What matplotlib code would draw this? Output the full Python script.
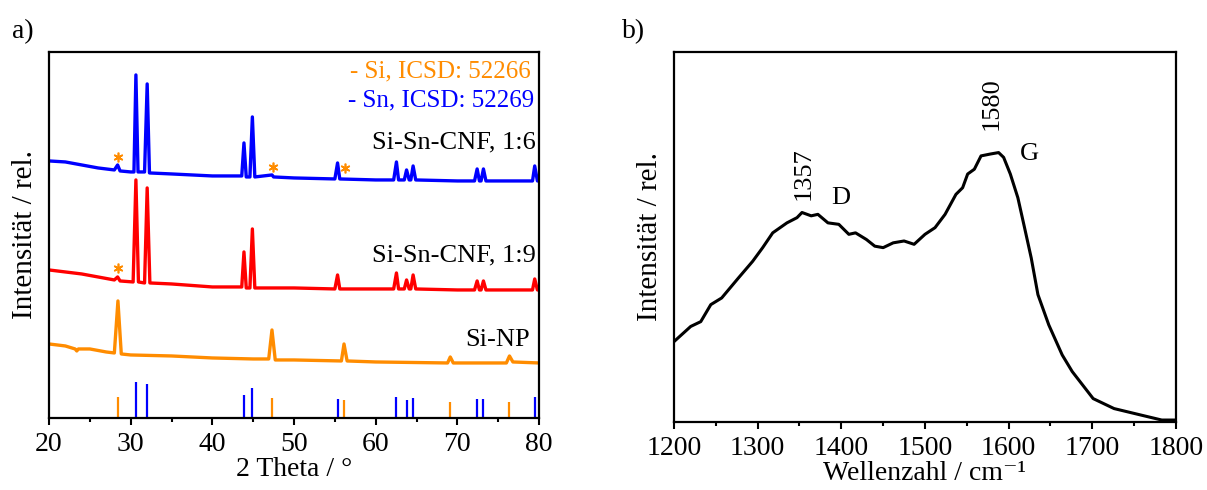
import numpy as np
import matplotlib
matplotlib.use('Agg')
import matplotlib.pyplot as plt
from matplotlib.ticker import MultipleLocator

plt.rcParams['font.family'] = ['Liberation Serif', 'DejaVu Serif']

# --- XRD (panel a), intensities in offset units (0 = axis bottom) ---
tt_16 = [20, 22, 24, 26, 28, 28.4, 28.7, 30.0, 30.4, 30.64, 30.9, 31.7, 32.02, 32.3,
         35, 40, 43.6, 43.87, 44.15, 44.6, 44.9, 45.2, 47.3, 47.5, 50, 55.0, 55.33,
         55.6, 60, 62.2, 62.54, 62.8, 63.5, 63.78, 64.1, 64.3, 64.58, 64.9, 70, 72.1,
         72.42, 72.7, 72.9, 73.19, 73.5, 79.2, 79.47, 79.8, 80]
int_16 = [257, 256, 253, 250, 248, 253, 247, 246, 246, 343, 246, 246, 334, 245,
          244, 242, 242, 275, 241, 241, 301, 241, 243, 241, 240, 239, 255,
          239, 238, 238, 256, 238, 238, 248, 238, 238, 252, 238, 237, 237,
          249, 237, 237, 249, 237, 237, 252, 237, 237]

tt_19 = [20, 24, 26, 28, 28.4, 28.7, 30.3, 30.64, 30.95, 31.7, 32.02, 32.35, 35, 40,
         43.6, 43.87, 44.15, 44.6, 44.9, 45.2, 50, 55.0, 55.33, 55.6, 60, 62.2, 62.54,
         62.8, 63.5, 63.78, 64.1, 64.3, 64.58, 64.9, 70, 72.1, 72.42, 72.7, 72.9,
         73.19, 73.5, 79.2, 79.47, 79.8, 80]
int_19 = [148, 144, 141, 138, 141, 137, 136, 238, 136, 135, 230, 135, 134, 131,
          131, 166, 130, 130, 189, 130, 130, 129, 143, 129, 129, 129, 145,
          129, 129, 138, 129, 129, 143, 129, 128, 128, 137, 128, 128,
          137, 128, 128, 139, 128, 128]

tt_np = [20, 22, 23.2, 23.4, 23.6, 25, 27, 28.0, 28.44, 28.85, 30, 35, 40, 45, 46.9,
         47.3, 47.7, 50, 55.8, 56.12, 56.5, 60, 68.8, 69.13, 69.5, 76.0, 76.38, 76.8, 80]
int_np = [74, 72, 69, 67, 69, 69, 66, 65, 117, 64, 63, 62, 60, 59, 59,
          88, 58, 58, 57, 74, 57, 56, 55, 61, 55, 55, 62, 56, 55]

# reference reflections
si_ref = [28.44, 47.30, 56.12, 69.13, 76.38]
si_ref_h = [21, 20, 18, 16, 16]
sn_ref = [30.64, 32.02, 43.87, 44.90, 55.33, 62.54, 63.78, 64.58, 72.42, 73.19, 79.47]
sn_ref_h = [36, 34, 23, 30, 19, 21, 18, 20, 19, 19, 21]

# Si marks (asterisks) in the composite patterns
star_x = [28.4, 47.4, 56.3, 28.4]
star_y = [261, 251, 250, 150]

# --- Raman (panel b), normalised ---
wn = [1200, 1220, 1232, 1244, 1257, 1277, 1294, 1306, 1318, 1335, 1347, 1353, 1364,
      1372, 1384, 1397, 1409, 1417, 1430, 1440, 1450, 1462, 1475, 1487, 1500, 1512,
      1524, 1537, 1545, 1551, 1559, 1567, 1578, 1588, 1594, 1602, 1611, 1619, 1627,
      1635, 1648, 1664, 1676, 1701, 1726, 1759, 1783, 1800]
raman = [0.217, 0.258, 0.271, 0.317, 0.335, 0.389, 0.434, 0.471, 0.511, 0.538, 0.552,
         0.566, 0.557, 0.561, 0.538, 0.534, 0.507, 0.511, 0.493, 0.475, 0.471, 0.484,
         0.489, 0.480, 0.507, 0.525, 0.561, 0.615, 0.633, 0.670, 0.683, 0.719, 0.724,
         0.728, 0.715, 0.670, 0.606, 0.525, 0.443, 0.344, 0.262, 0.181, 0.136, 0.063,
         0.036, 0.018, 0.005, 0.005]

ORANGE = '#ff8c00'
BLUE = '#0000ff'
RED = '#ff0000'
FS_TICK = 20
FS_LAB = 20
FS_TXT = 19
FS_REF = 18

fig = plt.figure(figsize=(12.07, 4.90), dpi=100)
ax1 = fig.add_axes([0.0406, 0.147, 0.406, 0.747])
ax2 = fig.add_axes([0.5584, 0.139, 0.4159, 0.755])

for ax in (ax1, ax2):
    for sp in ax.spines.values():
        sp.set_linewidth(1.6)
    ax.set_yticks([])
    ax.tick_params(axis='x', which='major', direction='out', length=5, width=1.5,
                   labelsize=FS_TICK, pad=5)
    ax.tick_params(axis='x', which='minor', direction='out', length=3, width=1.5)

# panel a
ax1.plot(tt_np, int_np, color=ORANGE, lw=2.4)
ax1.plot(tt_19, int_19, color=RED, lw=2.4)
ax1.plot(tt_16, int_16, color=BLUE, lw=2.4)
ax1.vlines(si_ref, 0, si_ref_h, color=ORANGE, lw=1.6)
ax1.vlines(sn_ref, 0, sn_ref_h, color=BLUE, lw=1.6)
ax1.plot(star_x, star_y, ls='none', marker=(6, 2, 0), ms=7, mew=1.2, color=ORANGE)

ax1.set_xlim(20, 80)
ax1.set_ylim(0, 366)
ax1.xaxis.set_major_locator(MultipleLocator(10))
ax1.xaxis.set_minor_locator(MultipleLocator(5))
ax1.set_xlabel('2 Theta / °', fontsize=FS_LAB, labelpad=0)
ax1.set_ylabel('Intensität / rel.', fontsize=FS_LAB + 1, labelpad=8)

ax1.text(79, 346, '- Si, ICSD: 52266', color=ORANGE, fontsize=FS_REF, ha='right', va='center')
ax1.text(79.4, 317, '- Sn, ICSD: 52269', color=BLUE, fontsize=FS_REF, ha='right', va='center')
ax1.text(79.6, 275, 'Si-Sn-CNF, 1:6', color='black', fontsize=FS_TXT, ha='right', va='center')
ax1.text(79.6, 163, 'Si-Sn-CNF, 1:9', color='black', fontsize=FS_TXT, ha='right', va='center')
ax1.text(78.9, 78, 'Si-NP', color='black', fontsize=FS_TXT, ha='right', va='center')

# panel b
ax2.plot(wn, raman, color='black', lw=2.2)
ax2.set_xlim(1200, 1800)
ax2.set_ylim(0, 1)
ax2.xaxis.set_major_locator(MultipleLocator(100))
ax2.xaxis.set_minor_locator(MultipleLocator(50))
ax2.set_xlabel('Wellenzahl / cm⁻¹', fontsize=FS_LAB, labelpad=0)
ax2.set_ylabel('Intensität / rel.', fontsize=FS_LAB + 1, labelpad=8)

ax2.text(1355, 0.60, '1357', fontsize=FS_TXT, rotation=90, ha='center', va='bottom')
ax2.text(1580, 0.79, '1580', fontsize=FS_TXT, rotation=90, ha='center', va='bottom')
ax2.text(1399, 0.606, 'D', fontsize=FS_TXT, ha='center', va='center')
ax2.text(1625, 0.724, 'G', fontsize=FS_TXT, ha='center', va='center')

fig.text(0.010, 0.935, 'a)', fontsize=FS_LAB, ha='left', va='center')
fig.text(0.515, 0.935, 'b)', fontsize=FS_LAB, ha='left', va='center')

fig.savefig('out.png', dpi=100)
plt.close(fig)
